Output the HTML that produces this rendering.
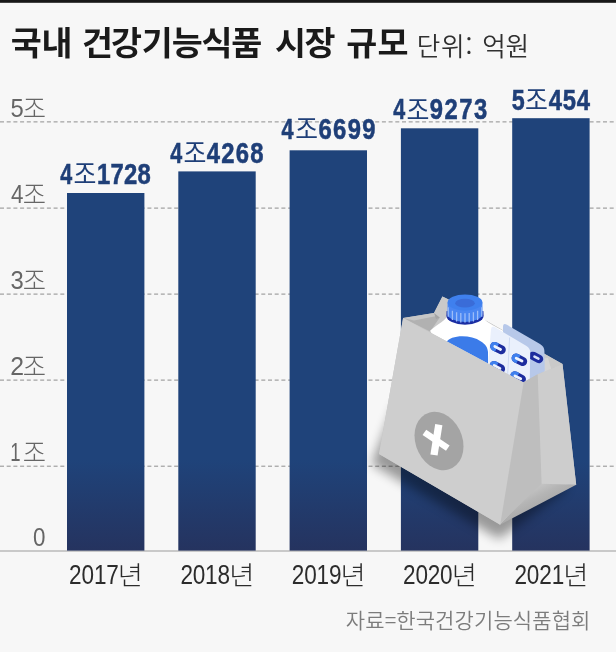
<!DOCTYPE html>
<html lang="ko">
<head>
<meta charset="utf-8">
<title>국내 건강기능식품 시장 규모</title>
<style>
html,body{margin:0;padding:0;background:#f7f7f7;}
body{width:616px;height:652px;overflow:hidden;position:relative;font-family:"Liberation Sans","Noto Sans CJK KR",sans-serif;}
svg{position:absolute;left:0;top:0;display:block;}
</style>
</head>
<body>
<svg width="616" height="652" viewBox="0 0 616 652">
<defs>
<linearGradient id="barg" gradientUnits="userSpaceOnUse" x1="0" y1="117" x2="0" y2="551">
<stop offset="0" stop-color="#1f437a"/><stop offset="0.79" stop-color="#1f437a"/><stop offset="1" stop-color="#25335f"/>
</linearGradient>
</defs>
<rect x="0" y="0" width="616" height="652" fill="#f7f7f7"/>
<rect x="0" y="0" width="616" height="2.8" fill="#181818"/>
<!-- gridlines -->
<g stroke="#8e8e8e" stroke-width="1" stroke-dasharray="4 2.7" fill="none">
<line x1="0" y1="121.9" x2="616" y2="121.9"/>
<line x1="0" y1="208.1" x2="616" y2="208.1"/>
<line x1="0" y1="294.1" x2="616" y2="294.1"/>
<line x1="0" y1="380.1" x2="616" y2="380.1"/>
<line x1="0" y1="466.2" x2="616" y2="466.2"/>
</g>
<line x1="0" y1="551" x2="616" y2="551" stroke="#9c9c9c" stroke-width="1.2"/>
<!-- bars -->
<g fill="url(#barg)">
<rect x="67.0" y="193.0" width="77.4" height="357.6"/>
<rect x="178.3" y="171.4" width="77.4" height="379.2"/>
<rect x="289.6" y="150.3" width="77.4" height="400.3"/>
<rect x="400.9" y="128.3" width="77.4" height="422.3"/>
<rect x="512.2" y="118.2" width="77.4" height="432.4"/>
</g>
<!-- bag illustration -->
<defs>
<filter id="blur6" x="-30%" y="-30%" width="160%" height="160%"><feGaussianBlur stdDeviation="5.5"/></filter>
<linearGradient id="btm" gradientUnits="userSpaceOnUse" x1="537" y1="483" x2="548" y2="505">
<stop offset="0" stop-color="#c8c8c8"/><stop offset="0.5" stop-color="#b5b5b5"/><stop offset="1" stop-color="#a8a8a8"/>
</linearGradient>
<clipPath id="inbag"><polygon points="380,250 600,250 600,372 562.5,364 537.2,374.6 523.6,382.4 403.1,318"/></clipPath>
</defs>
<g id="bag">
<!-- shadow -->
<polygon points="395,405 540,420 562,450 566,490 499,539 371.5,464" fill="#000" opacity="0.38" filter="url(#blur6)"/>
<polygon points="403.1,318.1 434,312.9 442.4,296.4 447.6,299 562.5,364 576.2,484.8 541.1,483.8 500.2,524.7 379,454" fill="#c4c4c4"/>
<!-- inside: back panel, gussets -->
<polygon points="434,312.9 442.4,296.4 447.6,299 562.5,364 537.2,374.6 523.6,382.4 430,331" fill="#c9c9c9"/>
<polygon points="403.1,318.1 434,312.9 436,316.5 414,321" fill="#c6c6c6"/>
<polygon points="403.1,318.1 414,320.6 435.5,316.2 439.8,317.5 430.1,331.5" fill="#b1b1b1"/>
<polygon points="434,312.9 439.8,317.5 436,319" fill="#a5a5a5"/>
<polygon points="543.4,358.5 548,358 552,372 544.1,372" fill="#d4d4d4"/>
<polygon points="529.8,374 537.2,372.5 537.2,374.6 523.6,382.4" fill="#b3b3b3"/>
<!-- contents -->
<g clip-path="url(#inbag)">
  <path d="M447.3,315 C446.5,320.5 438,323.5 430.1,330.8 L470,400 L520,400 L520,342 C500,326 483.5,324 482.7,315 Z" fill="#ffffff"/>
  <path d="M446.3,342.5 C450,335 470,334 481,341.5 C485.5,344.5 487.6,347 488,352 L488.4,400 L446,400 Z" fill="#3b7be9"/>
  <path d="M446.6,311 L446.4,315.8 A18.6,8.9 0 0 0 483.6,315.8 L483.4,311 Z" fill="#1b2ea3"/>
  <path d="M447.6,302.4 L447.5,313.8 A17.5,8.2 0 0 0 482.5,313.8 L482.4,302.4 Z" fill="#4a86f2"/>
  <g stroke="#9dbdf8" stroke-width="1.3">
    <line x1="448.2" y1="307.3" x2="448.2" y2="316.7"/><line x1="452.4" y1="310.7" x2="452.4" y2="320.1"/><line x1="456.6" y1="312.2" x2="456.6" y2="321.6"/><line x1="460.8" y1="313.0" x2="460.8" y2="322.4"/><line x1="465.0" y1="313.2" x2="465.0" y2="322.6"/><line x1="469.2" y1="313.0" x2="469.2" y2="322.4"/><line x1="473.4" y1="312.2" x2="473.4" y2="321.6"/><line x1="477.6" y1="310.7" x2="477.6" y2="320.1"/><line x1="481.8" y1="307.3" x2="481.8" y2="316.7"/>
  </g>
  <ellipse cx="465" cy="302.6" rx="17.4" ry="8.1" fill="#3f80ee"/>
  <ellipse cx="465" cy="303.2" rx="9.8" ry="4.4" fill="#3a6cd8"/>
  <!-- back blister -->
  <path d="M503,327 Q503,322.6 507,324.8 L540,344 Q544.4,346.6 544.4,351 L545,385 L503,385 Z" fill="#b7c8e9"/>
  <g transform="translate(536,357.4) rotate(27)"><rect x="-7.6" y="-4.2" width="15.2" height="8.4" rx="4.2" fill="#1c2c9e"/><rect x="-3" y="-1.3" width="7" height="2.6" rx="1.3" fill="#d9e3f8"/></g>
  <!-- front blister -->
  <path d="M491,329.5 Q491.3,325.2 495,327.2 L526.5,346 Q530.3,348.3 530.2,352.5 L529.5,400 L485,400 Z" fill="#eaf0fc"/>
  <line x1="509.6" y1="337.5" x2="507.3" y2="382" stroke="#cdd9f2" stroke-width="1"/>
  <g transform="translate(498,348.1) rotate(27) scale(1.08)"><rect x="-7.6" y="-4.2" width="15.2" height="8.4" rx="4.2" fill="#1c2c9e"/><path d="M-3.4,-4.2 A4.2,4.2 0 0 0 -3.4,4.2 L-1,4.2 L-1,-4.2 Z" fill="#3f80ee"/><rect x="-4.6" y="-1.3" width="8.6" height="2.6" rx="1.3" fill="#eef3fd"/></g><g transform="translate(519.4,359.8) rotate(27) scale(1.08)"><rect x="-7.6" y="-4.2" width="15.2" height="8.4" rx="4.2" fill="#1c2c9e"/><path d="M-3.4,-4.2 A4.2,4.2 0 0 0 -3.4,4.2 L-1,4.2 L-1,-4.2 Z" fill="#3f80ee"/><rect x="-4.6" y="-1.3" width="8.6" height="2.6" rx="1.3" fill="#eef3fd"/></g><g transform="translate(497.3,367.2) rotate(27) scale(1.08)"><rect x="-7.6" y="-4.2" width="15.2" height="8.4" rx="4.2" fill="#1c2c9e"/><path d="M-3.4,-4.2 A4.2,4.2 0 0 0 -3.4,4.2 L-1,4.2 L-1,-4.2 Z" fill="#3f80ee"/><rect x="-4.6" y="-1.3" width="8.6" height="2.6" rx="1.3" fill="#eef3fd"/></g><g transform="translate(518.1,377.5) rotate(27) scale(1.08)"><rect x="-7.6" y="-4.2" width="15.2" height="8.4" rx="4.2" fill="#1c2c9e"/><path d="M-3.4,-4.2 A4.2,4.2 0 0 0 -3.4,4.2 L-1,4.2 L-1,-4.2 Z" fill="#3f80ee"/><rect x="-4.6" y="-1.3" width="8.6" height="2.6" rx="1.3" fill="#eef3fd"/></g>
</g>
<!-- side panels -->
<polygon points="500.2,524.7 539,482 576.2,484.8" fill="url(#btm)"/>
<polygon points="537.2,374.6 562.5,364 576.2,484.8 541.1,483.8" fill="#cdcdcd"/>
<polygon points="522.6,382.4 537.7,374.4 541.6,483.8 499.2,524.7" fill="#bebebe"/>
<!-- front face -->
<polygon points="403.1,318.1 523.6,382.4 500.2,524.7 379,454" fill="#cecece"/>
<!-- emblem -->
<g transform="matrix(1,0.22,0,1,439,441)"><ellipse cx="0" cy="0" rx="24.5" ry="28.7" fill="#a4a4a4"/></g>
<line x1="438.8" y1="424.6" x2="434" y2="455" stroke="#fff" stroke-width="7.3"/>
<line x1="424.4" y1="432.4" x2="447.8" y2="448.1" stroke="#fff" stroke-width="6.5"/>
</g>

<!-- title -->
<g fill="#1a1a1a">
<text><tspan x="10.72" y="55.30" textLength="61.43" lengthAdjust="spacingAndGlyphs" font-family='"Noto Sans CJK KR","Liberation Sans",sans-serif' font-weight="700" font-size="32.40" letter-spacing="-0.276">국내</tspan> <tspan x="81.98" y="55.30" textLength="58.12" lengthAdjust="spacingAndGlyphs" font-family='"Noto Sans CJK KR","Liberation Sans",sans-serif' font-weight="700" font-size="32.40" letter-spacing="-1.864">건강</tspan><tspan x="141.85" y="55.30" textLength="119.15" lengthAdjust="spacingAndGlyphs" font-family='"Noto Sans CJK KR","Liberation Sans",sans-serif' font-weight="700" font-size="32.40" letter-spacing="-1.166">기능식품</tspan> <tspan x="275.02" y="55.30" textLength="58.84" lengthAdjust="spacingAndGlyphs" font-family='"Noto Sans CJK KR","Liberation Sans",sans-serif' font-weight="700" font-size="32.40" letter-spacing="-1.519">시장</tspan> <tspan x="346.22" y="55.30" textLength="62.66" lengthAdjust="spacingAndGlyphs" font-family='"Noto Sans CJK KR","Liberation Sans",sans-serif' font-weight="700" font-size="32.40" letter-spacing="0.316">규모</tspan></text>
</g>
<g fill="#303030">
<text><tspan x="416.67" y="55.80" textLength="56.71" lengthAdjust="spacingAndGlyphs" font-family='"Noto Sans CJK KR","Liberation Sans",sans-serif' font-weight="350" font-size="25.60" letter-spacing="0.905">단위:</tspan> <tspan x="482.31" y="55.80" textLength="46.66" lengthAdjust="spacingAndGlyphs" font-family='"Noto Sans CJK KR","Liberation Sans",sans-serif' font-weight="350" font-size="25.60" letter-spacing="-0.222">억원</tspan></text>
</g>
<!-- y labels -->
<g fill="#666">
<text><tspan x="10.55" y="116.50" textLength="13.26" lengthAdjust="spacingAndGlyphs" font-family='"Liberation Sans","Noto Sans CJK KR",sans-serif' font-weight="400" font-size="25.70">5</tspan><tspan x="22.81" y="117.50" textLength="23.31" lengthAdjust="spacingAndGlyphs" font-family='"Noto Sans CJK KR","Liberation Sans",sans-serif' font-weight="300" font-size="26.00">조</tspan></text>
<text><tspan x="10.99" y="202.70" textLength="12.47" lengthAdjust="spacingAndGlyphs" font-family='"Liberation Sans","Noto Sans CJK KR",sans-serif' font-weight="400" font-size="25.70">4</tspan><tspan x="22.81" y="203.70" textLength="23.31" lengthAdjust="spacingAndGlyphs" font-family='"Noto Sans CJK KR","Liberation Sans",sans-serif' font-weight="300" font-size="26.00">조</tspan></text>
<text><tspan x="10.59" y="288.70" textLength="13.26" lengthAdjust="spacingAndGlyphs" font-family='"Liberation Sans","Noto Sans CJK KR",sans-serif' font-weight="400" font-size="25.70">3</tspan><tspan x="22.81" y="289.70" textLength="23.31" lengthAdjust="spacingAndGlyphs" font-family='"Noto Sans CJK KR","Liberation Sans",sans-serif' font-weight="300" font-size="26.00">조</tspan></text>
<text><tspan x="10.25" y="374.70" textLength="13.79" lengthAdjust="spacingAndGlyphs" font-family='"Liberation Sans","Noto Sans CJK KR",sans-serif' font-weight="400" font-size="25.70">2</tspan><tspan x="22.81" y="375.70" textLength="23.31" lengthAdjust="spacingAndGlyphs" font-family='"Noto Sans CJK KR","Liberation Sans",sans-serif' font-weight="300" font-size="26.00">조</tspan></text>
<text><tspan x="10.19" y="460.80" textLength="10.32" lengthAdjust="spacingAndGlyphs" font-family='"Liberation Sans","Noto Sans CJK KR",sans-serif' font-weight="400" font-size="25.70">1</tspan><tspan x="22.81" y="461.80" textLength="23.31" lengthAdjust="spacingAndGlyphs" font-family='"Noto Sans CJK KR","Liberation Sans",sans-serif' font-weight="300" font-size="26.00">조</tspan></text>
<text><tspan x="33.03" y="546.40" textLength="12.45" lengthAdjust="spacingAndGlyphs" font-family='"Liberation Sans","Noto Sans CJK KR",sans-serif' font-weight="400" font-size="25.70">0</tspan></text>
</g>
<!-- value labels -->
<g fill="#1f3f78">
<text><tspan x="60.18" y="184.25" textLength="11.94" lengthAdjust="spacingAndGlyphs" font-family='"Liberation Sans","Noto Sans CJK KR",sans-serif' font-weight="700" font-size="28.70" stroke="#1f3f78" stroke-width="0.55">4</tspan><tspan x="73.56" y="184.35" textLength="22.89" lengthAdjust="spacingAndGlyphs" font-family='"Noto Sans CJK KR","Liberation Sans",sans-serif' font-weight="400" font-size="27.20">조</tspan><tspan x="97.00" y="184.25" textLength="54.11" lengthAdjust="spacingAndGlyphs" font-family='"Liberation Sans","Noto Sans CJK KR",sans-serif' font-weight="700" font-size="28.70" letter-spacing="0.338" stroke="#1f3f78" stroke-width="0.55">1728</tspan></text>
<text><tspan x="170.18" y="162.75" textLength="11.94" lengthAdjust="spacingAndGlyphs" font-family='"Liberation Sans","Noto Sans CJK KR",sans-serif' font-weight="700" font-size="28.70" stroke="#1f3f78" stroke-width="0.55">4</tspan><tspan x="183.56" y="162.85" textLength="22.89" lengthAdjust="spacingAndGlyphs" font-family='"Noto Sans CJK KR","Liberation Sans",sans-serif' font-weight="400" font-size="27.20">조</tspan><tspan x="206.74" y="162.75" textLength="58.19" lengthAdjust="spacingAndGlyphs" font-family='"Liberation Sans","Noto Sans CJK KR",sans-serif' font-weight="700" font-size="28.70" letter-spacing="1.567" stroke="#1f3f78" stroke-width="0.55">4268</tspan></text>
<text><tspan x="281.57" y="139.15" textLength="12.04" lengthAdjust="spacingAndGlyphs" font-family='"Liberation Sans","Noto Sans CJK KR",sans-serif' font-weight="700" font-size="28.70" stroke="#1f3f78" stroke-width="0.55">4</tspan><tspan x="295.16" y="139.25" textLength="22.78" lengthAdjust="spacingAndGlyphs" font-family='"Noto Sans CJK KR","Liberation Sans",sans-serif' font-weight="400" font-size="27.20">조</tspan><tspan x="318.53" y="139.15" textLength="58.41" lengthAdjust="spacingAndGlyphs" font-family='"Liberation Sans","Noto Sans CJK KR",sans-serif' font-weight="700" font-size="28.70" letter-spacing="1.632" stroke="#1f3f78" stroke-width="0.55">6699</tspan></text>
<text><tspan x="393.18" y="119.45" textLength="11.94" lengthAdjust="spacingAndGlyphs" font-family='"Liberation Sans","Noto Sans CJK KR",sans-serif' font-weight="700" font-size="28.70" stroke="#1f3f78" stroke-width="0.55">4</tspan><tspan x="406.56" y="119.55" textLength="22.89" lengthAdjust="spacingAndGlyphs" font-family='"Noto Sans CJK KR","Liberation Sans",sans-serif' font-weight="400" font-size="27.20">조</tspan><tspan x="429.77" y="119.45" textLength="58.85" lengthAdjust="spacingAndGlyphs" font-family='"Liberation Sans","Noto Sans CJK KR",sans-serif' font-weight="700" font-size="28.70" letter-spacing="1.765" stroke="#1f3f78" stroke-width="0.55">9273</tspan></text>
<text><tspan x="511.78" y="110.25" textLength="12.97" lengthAdjust="spacingAndGlyphs" font-family='"Liberation Sans","Noto Sans CJK KR",sans-serif' font-weight="700" font-size="28.70" stroke="#1f3f78" stroke-width="0.55">5</tspan><tspan x="525.06" y="110.35" textLength="22.89" lengthAdjust="spacingAndGlyphs" font-family='"Noto Sans CJK KR","Liberation Sans",sans-serif' font-weight="400" font-size="27.20">조</tspan><tspan x="548.64" y="110.25" textLength="42.06" lengthAdjust="spacingAndGlyphs" font-family='"Liberation Sans","Noto Sans CJK KR",sans-serif' font-weight="700" font-size="28.70" letter-spacing="0.930" stroke="#1f3f78" stroke-width="0.55">454</tspan></text>
</g>
<!-- x labels -->
<g fill="#2c2c2c">
<text><tspan x="69.07" y="584.30" textLength="49.63" lengthAdjust="spacingAndGlyphs" font-family='"Liberation Sans","Noto Sans CJK KR",sans-serif' font-weight="400" font-size="28.20" letter-spacing="-0.174">2017</tspan><tspan x="117.82" y="584.60" textLength="25.17" lengthAdjust="spacingAndGlyphs" font-family='"Noto Sans CJK KR","Liberation Sans",sans-serif' font-weight="300" font-size="26.30">년</tspan></text>
<text><tspan x="180.42" y="584.30" textLength="49.42" lengthAdjust="spacingAndGlyphs" font-family='"Liberation Sans","Noto Sans CJK KR",sans-serif' font-weight="400" font-size="28.20" letter-spacing="-0.238">2018</tspan><tspan x="229.17" y="584.60" textLength="25.17" lengthAdjust="spacingAndGlyphs" font-family='"Noto Sans CJK KR","Liberation Sans",sans-serif' font-weight="300" font-size="26.30">년</tspan></text>
<text><tspan x="291.77" y="584.30" textLength="49.54" lengthAdjust="spacingAndGlyphs" font-family='"Liberation Sans","Noto Sans CJK KR",sans-serif' font-weight="400" font-size="28.20" letter-spacing="-0.202">2019</tspan><tspan x="340.52" y="584.60" textLength="25.17" lengthAdjust="spacingAndGlyphs" font-family='"Noto Sans CJK KR","Liberation Sans",sans-serif' font-weight="300" font-size="26.30">년</tspan></text>
<text><tspan x="403.12" y="584.30" textLength="49.29" lengthAdjust="spacingAndGlyphs" font-family='"Liberation Sans","Noto Sans CJK KR",sans-serif' font-weight="400" font-size="28.20" letter-spacing="-0.280">2020</tspan><tspan x="451.87" y="584.60" textLength="25.17" lengthAdjust="spacingAndGlyphs" font-family='"Noto Sans CJK KR","Liberation Sans",sans-serif' font-weight="300" font-size="26.30">년</tspan></text>
<text><tspan x="514.47" y="584.30" textLength="49.59" lengthAdjust="spacingAndGlyphs" font-family='"Liberation Sans","Noto Sans CJK KR",sans-serif' font-weight="400" font-size="28.20" letter-spacing="-0.188">2021</tspan><tspan x="563.22" y="584.60" textLength="25.17" lengthAdjust="spacingAndGlyphs" font-family='"Noto Sans CJK KR","Liberation Sans",sans-serif' font-weight="300" font-size="26.30">년</tspan></text>
</g>
<!-- source -->
<text><tspan x="345.80" y="627.90" textLength="244.70" lengthAdjust="spacingAndGlyphs" font-family='"Noto Sans CJK KR","Liberation Sans",sans-serif' font-weight="350" font-size="21.00" letter-spacing="0.102" fill="#7c7c7c">자료=한국건강기능식품협회</tspan></text>
</svg>
</body>
</html>
